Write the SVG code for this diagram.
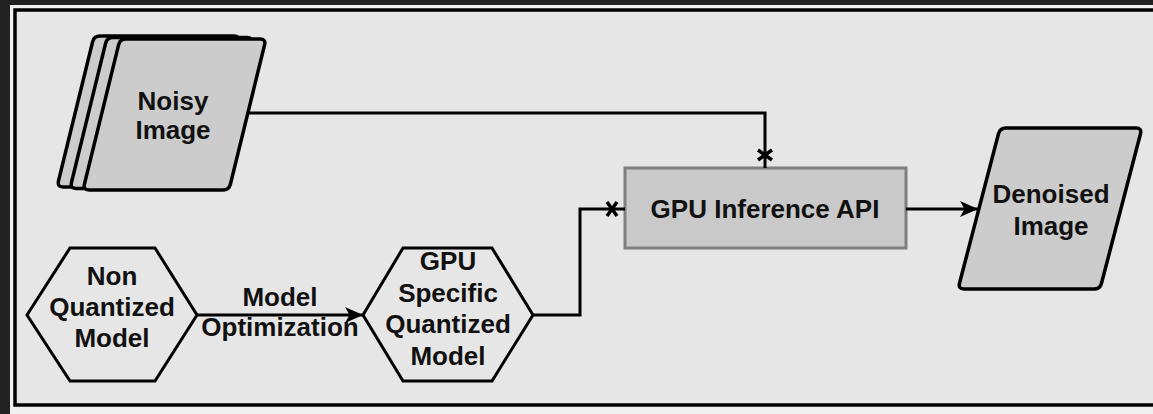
<svg xmlns="http://www.w3.org/2000/svg" width="1153" height="414" viewBox="0 0 1153 414">
<style>
.lbl{font-family:"Liberation Sans",Arial,Helvetica,sans-serif;font-weight:bold;font-size:26px;fill:#111;text-anchor:middle}
.doc{fill:#cccccc;stroke:#000;stroke-width:3.5;stroke-linejoin:round}
.hex{fill:none;stroke:#000;stroke-width:3;stroke-linejoin:miter}
.edge{fill:none;stroke:#000;stroke-width:3}
</style>
<defs>
<path id="para" d="M43,0 L177,0 Q183,0 181.57,5.83 L147.43,145.17 Q146,151 140,151 L6,151 Q0,151 1.43,145.17 L35.57,5.83 Q37,0 43,0 Z"/>
<marker id="arrow" markerUnits="userSpaceOnUse" markerWidth="20" markerHeight="18" refX="19" refY="9" orient="auto">
<path d="M1,1 L19,9 L1,17 L5.5,9 Z" fill="#000"/>
</marker>
<marker id="cross" markerUnits="userSpaceOnUse" markerWidth="24" markerHeight="20" refX="20" refY="10" orient="auto">
<path d="M2,3 L12,17 M12,3 L2,17" stroke="#000" stroke-width="3.5" fill="none"/>
</marker>
</defs>
<rect x="0" y="0" width="1153" height="414" fill="#222222"/>
<rect x="10" y="5" width="1150" height="412" fill="#f0f0f0"/>
<rect x="15" y="10" width="1150" height="395" fill="#e6e6e6" stroke="#000" stroke-width="3.5"/>

<g id="noisy-image">
<use href="#para" class="doc" transform="translate(57,36)"/>
<use href="#para" class="doc" transform="translate(70,37.5)"/>
<use href="#para" class="doc" transform="translate(83,39)"/>
<text class="lbl" x="173" y="110">Noisy</text>
<text class="lbl" x="173" y="139">Image</text>
</g>

<g id="non-quantized-model">
<polygon class="hex" points="27,315 70,248 155,248 197,315 155,381 70,381"/>
<text class="lbl" x="112" y="285">Non</text>
<text class="lbl" x="112" y="316">Quantized</text>
<text class="lbl" x="112" y="347">Model</text>
</g>

<g id="gpu-quantized-model">
<polygon class="hex" points="363,315 403,248 492,248 533,315 492,381 403,381"/>
<text class="lbl" x="448" y="270">GPU</text>
<text class="lbl" x="448" y="301.5">Specific</text>
<text class="lbl" x="448" y="333">Quantized</text>
<text class="lbl" x="448" y="364.5">Model</text>
</g>

<g id="gpu-inference-api">
<rect x="625" y="168" width="281" height="80" fill="#c9c9c9" stroke="#7f7f7f" stroke-width="3"/>
<text class="lbl" x="765" y="218">GPU Inference API</text>
</g>

<g id="denoised-image">
<path class="doc" transform="translate(958,128)" d="M48,0 L178,0 Q184,0 182.49,5.81 L143.51,155.19 Q142,161 136,161 L6,161 Q0,161 1.51,155.19 L40.49,5.81 Q42,0 48,0 Z"/>
<text class="lbl" x="1051" y="203">Denoised</text>
<text class="lbl" x="1051" y="235">Image</text>
</g>

<g id="connectors">
<path class="edge" d="M248,113 H765 V168" marker-end="url(#cross)"/>
<path class="edge" d="M533,315 H580 V209 H625" marker-end="url(#cross)"/>
<path class="edge" d="M197,315 H363" marker-end="url(#arrow)"/>
<path class="edge" d="M906,209 H978" marker-end="url(#arrow)"/>
<text class="lbl" x="280" y="306">Model</text>
<text class="lbl" x="280" y="336">Optimization</text>
</g>
</svg>
